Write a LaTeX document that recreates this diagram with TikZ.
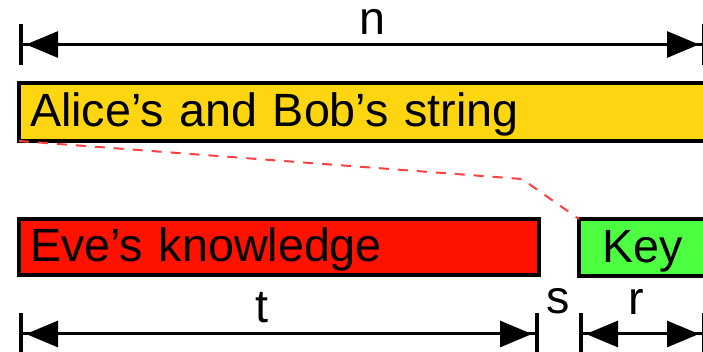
\documentclass[tikz,border=0pt]{standalone}
\usepackage{fontspec}
\setmainfont{Liberation Sans}
\usetikzlibrary{arrows.meta}
\definecolor{stryellow}{RGB}{253,213,17}
\definecolor{evered}{RGB}{255,17,0}
\definecolor{keygreen}{RGB}{76,255,64}
\definecolor{linkred}{RGB}{255,64,64}

\begin{document}
\begin{tikzpicture}
  [x=0.75pt,y=-0.75pt,
   every node/.style={font=\fontsize{35}{42}\selectfont},
   bar/.style={draw=black,line width=3pt,rectangle,anchor=west,outer sep=0pt,align=left,
     inner xsep=8.25pt,text height=22.5pt,text depth=0pt},
   dim/.style={line width=2.25pt,{Bar[width=30.75pt,line width=3pt]}-{Bar[width=30.75pt,line width=3pt]},
     postaction={draw,{Triangle[length=24pt,width=19.5pt]}-{Triangle[length=24pt,width=19.5pt]},
       shorten <=5.25pt,shorten >=5.25pt}},
   lbl/.style={anchor=base,inner sep=0pt}]
\useasboundingbox (0,0) rectangle (703,352);
\clip (0,0) rectangle (703,352);
  \node (alice) at (19,112) [bar,fill=stryellow,minimum width=515.25pt,minimum height=43.5pt,text width=498.75pt] {Alice’s and Bob’s string};
  \node (eve) at (19,247) [bar,fill=evered,minimum width=390pt,minimum height=42pt,text width=373.5pt] {Eve’s knowledge};
  \node (key) at (579,247.5) [bar,fill=keygreen,align=center,minimum width=95.25pt,minimum height=42.75pt,text width=78.75pt] {Key};

  \coordinate (nl) at (19,44.5);
  \coordinate (nr) at (706,44.5);
  \coordinate (tl) at (19,334);
  \coordinate (tr) at (539,334);
  \coordinate (rl) at (579,334);
  \coordinate (rr) at (706,334);

  \foreach \from/\to in {nl/nr, tl/tr, rl/rr}
    \draw[dim] (\from) -- (\to);

  \node (n) at (372,35) [lbl] {n};
  \node (t) at (262,323) [lbl] {t};
  \node (s) at (558,314) [lbl] {s};
  \node (r) at (636,315) [lbl] {r};

  \coordinate (bend) at (522,179);
  \draw[linkred,line width=1.5pt,dash pattern=on 7.5pt off 6.75pt] (alice.south west) -- (bend) -- (key.north west);
\end{tikzpicture}
\end{document}
